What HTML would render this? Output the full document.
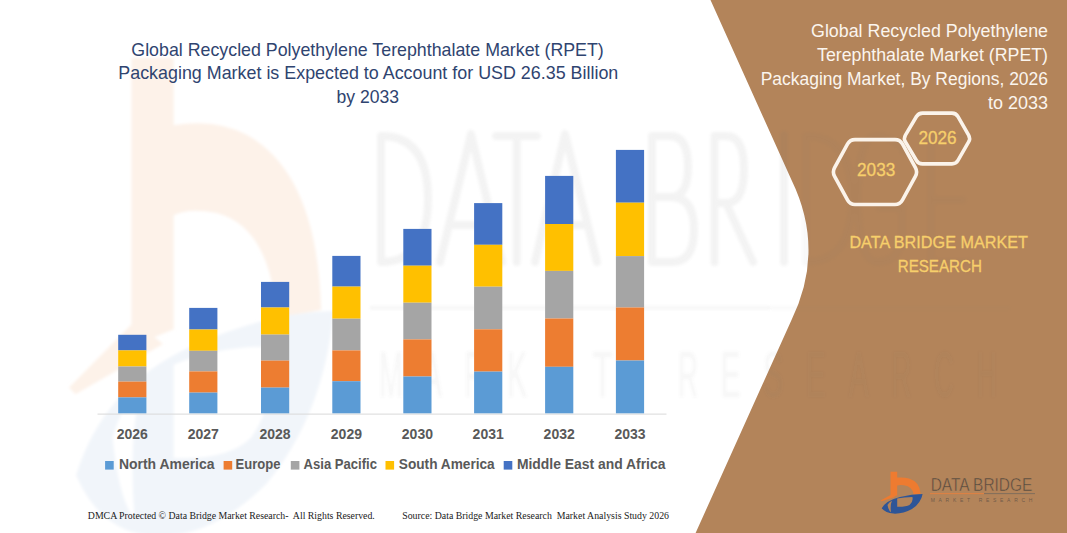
<!DOCTYPE html>
<html><head><meta charset="utf-8">
<style>
html,body{margin:0;padding:0;background:#fff;}
body{width:1067px;height:533px;overflow:hidden;position:relative;font-family:"Liberation Sans",sans-serif;}
svg{position:absolute;left:0;top:0;display:block;}
</style></head>
<body>
<svg width="1067" height="533" viewBox="0 0 1067 533">
<defs><filter id="bl" x="-10%" y="-10%" width="120%" height="120%"><feGaussianBlur stdDeviation="1.6"/></filter></defs>
<rect x="0" y="0" width="1067" height="533" fill="#ffffff"/>
<g id="wmlogo" filter="url(#bl)">
<path d="M131.5 58.0 L173.7 58.0 L173.7 125.3 Q216.6 118.4 248.1 135.5 Q317.4 175.4 321.1 309.9 L277.0 317.9 Q270.1 226.7 216.6 213.0 Q188.2 207.3 173.7 215.3 L173.7 329.3 L131.5 346.4 Z" fill="#FDF2E9"/>
<path d="M134.7 321.3 L69.1 387.5 L75.4 394.3 L163.0 344.1 Z" fill="#FDF2E9"/>
<path d="M76.1 475.2 Q103.2 386.3 191.3 346.4 Q266.9 312.2 333.7 311.1 Q323.6 414.8 266.9 483.2 Q210.2 540.2 151.0 535.7 Q100.0 531.1 76.1 475.2 Z M173.7 364.7 L173.7 458.1 Q229.1 460.4 251.2 437.6 Q276.4 403.4 269.5 346.4 Q216.6 346.4 173.7 364.7 Z" fill="#F1F5FA" fill-rule="evenodd"/>
<path d="M112.6 437.6 Q122.0 403.4 140.9 389.7 Q128.3 437.6 134.7 519.7 Q118.9 500.3 112.6 437.6 Z" fill="#ffffff"/>
</g>
<path d="M710.5 0 L791.5 180 Q825.5 250 791.5 320 L695.6 533 L1067 533 L1067 0 Z" fill="#B3845A"/>
<g id="wmtext" filter="url(#bl)" opacity="0.08">
<g fill="none" stroke="#6E6E6E" stroke-linecap="round" stroke-width="7.8" stroke-linejoin="round">
<path d="M381 136 L381 262 Q428 262 428 199 Q428 136 381 136 Z"/>
<path d="M440 262 L471 134 L502 262 M451 225 L491 225"/>
<path d="M496 136 L537 136 M516.7 136 L516.7 262"/>
<path d="M535 262 L565 134 L597 262 M545 225 L587 225"/>
<path d="M652 136 L652 262 L672 262 Q694 262 694 229.5 Q694 197 671 197 L652 197 M671 197 Q688 197 688 166.5 Q688 136 670 136 L652 136"/>
<path d="M714.5 262 L714.5 136 L726 136 Q744 136 744 169.5 Q744 203 726 203 L714.5 203 M726 203 L753 262"/>
<path d="M784 135 L784 262"/>
</g>
<rect x="370" y="306" width="400" height="3.5" fill="#8A8A8A"/>
</g>
<g filter="url(#bl)" opacity="0.045">
<g fill="none" stroke="#6E6E6E" stroke-linecap="round" stroke-width="7.8" stroke-linejoin="round">
<path d="M806 136 L806 262 Q852 262 852 199 Q852 136 806 136 Z"/>
<path d="M905 152 Q893 136 876 136 Q858 136 858 199 Q858 262 877 262 Q900 262 902 236 L902 208 L880 208"/>
<path d="M968 136 L931 136 L931 262 L968 262 M931 200 L962 200"/>
</g>
<rect x="770" y="306" width="240" height="3.5" fill="#8A8A8A"/>
</g>
<g id="wmtext2" filter="url(#bl)" font-family="Liberation Sans" font-size="64" fill="#6E6E6E">
<text x="379.0" y="397" textLength="24" lengthAdjust="spacingAndGlyphs" opacity="0.06">M</text>
<text x="421.7" y="397" textLength="20" lengthAdjust="spacingAndGlyphs" opacity="0.06">A</text>
<text x="464.4" y="397" textLength="20" lengthAdjust="spacingAndGlyphs" opacity="0.06">R</text>
<text x="507.1" y="397" textLength="20" lengthAdjust="spacingAndGlyphs" opacity="0.06">K</text>
<text x="549.8" y="397" textLength="20" lengthAdjust="spacingAndGlyphs" opacity="0.06">E</text>
<text x="592.5" y="397" textLength="20" lengthAdjust="spacingAndGlyphs" opacity="0.06">T</text>
<text x="677.9" y="397" textLength="20" lengthAdjust="spacingAndGlyphs" opacity="0.06">R</text>
<text x="720.6" y="397" textLength="20" lengthAdjust="spacingAndGlyphs" opacity="0.06">E</text>
<text x="763.3" y="397" textLength="20" lengthAdjust="spacingAndGlyphs" opacity="0.06">S</text>
<text x="806.0" y="397" textLength="20" lengthAdjust="spacingAndGlyphs" opacity="0.04">E</text>
<text x="848.7" y="397" textLength="20" lengthAdjust="spacingAndGlyphs" opacity="0.04">A</text>
<text x="891.4" y="397" textLength="20" lengthAdjust="spacingAndGlyphs" opacity="0.04">R</text>
<text x="934.1" y="397" textLength="20" lengthAdjust="spacingAndGlyphs" opacity="0.04">C</text>
<text x="976.8" y="397" textLength="20" lengthAdjust="spacingAndGlyphs" opacity="0.04">H</text>
</g>
<rect x="97.5" y="413.6" width="569" height="1" fill="#D9D9D9"/>
<g id="bars">
<rect x="118.2" y="334.8" width="28.2" height="15.6" fill="#4472C4"/>
<rect x="118.2" y="350.4" width="28.2" height="16.1" fill="#FFC000"/>
<rect x="118.2" y="366.5" width="28.2" height="15.1" fill="#A5A5A5"/>
<rect x="118.2" y="381.6" width="28.2" height="15.8" fill="#ED7D31"/>
<rect x="118.2" y="397.4" width="28.2" height="15.9" fill="#5B9BD5"/>
<rect x="189.2" y="307.9" width="28.2" height="21.6" fill="#4472C4"/>
<rect x="189.2" y="329.5" width="28.2" height="21.3" fill="#FFC000"/>
<rect x="189.2" y="350.8" width="28.2" height="20.6" fill="#A5A5A5"/>
<rect x="189.2" y="371.4" width="28.2" height="21.2" fill="#ED7D31"/>
<rect x="189.2" y="392.6" width="28.2" height="20.7" fill="#5B9BD5"/>
<rect x="261.0" y="281.9" width="28.2" height="25.6" fill="#4472C4"/>
<rect x="261.0" y="307.5" width="28.2" height="27.1" fill="#FFC000"/>
<rect x="261.0" y="334.6" width="28.2" height="26.0" fill="#A5A5A5"/>
<rect x="261.0" y="360.6" width="28.2" height="27.0" fill="#ED7D31"/>
<rect x="261.0" y="387.6" width="28.2" height="25.7" fill="#5B9BD5"/>
<rect x="332.3" y="255.9" width="28.2" height="30.7" fill="#4472C4"/>
<rect x="332.3" y="286.6" width="28.2" height="32.1" fill="#FFC000"/>
<rect x="332.3" y="318.7" width="28.2" height="31.7" fill="#A5A5A5"/>
<rect x="332.3" y="350.4" width="28.2" height="30.8" fill="#ED7D31"/>
<rect x="332.3" y="381.2" width="28.2" height="32.1" fill="#5B9BD5"/>
<rect x="403.3" y="228.9" width="28.2" height="36.8" fill="#4472C4"/>
<rect x="403.3" y="265.7" width="28.2" height="37.0" fill="#FFC000"/>
<rect x="403.3" y="302.7" width="28.2" height="36.7" fill="#A5A5A5"/>
<rect x="403.3" y="339.4" width="28.2" height="37.1" fill="#ED7D31"/>
<rect x="403.3" y="376.5" width="28.2" height="36.8" fill="#5B9BD5"/>
<rect x="474.1" y="203.1" width="28.2" height="41.7" fill="#4472C4"/>
<rect x="474.1" y="244.8" width="28.2" height="41.9" fill="#FFC000"/>
<rect x="474.1" y="286.7" width="28.2" height="42.6" fill="#A5A5A5"/>
<rect x="474.1" y="329.3" width="28.2" height="42.3" fill="#ED7D31"/>
<rect x="474.1" y="371.6" width="28.2" height="41.7" fill="#5B9BD5"/>
<rect x="545.1" y="175.9" width="28.2" height="48.1" fill="#4472C4"/>
<rect x="545.1" y="224.0" width="28.2" height="46.9" fill="#FFC000"/>
<rect x="545.1" y="270.9" width="28.2" height="47.6" fill="#A5A5A5"/>
<rect x="545.1" y="318.5" width="28.2" height="48.3" fill="#ED7D31"/>
<rect x="545.1" y="366.8" width="28.2" height="46.5" fill="#5B9BD5"/>
<rect x="615.9" y="149.9" width="28.2" height="52.8" fill="#4472C4"/>
<rect x="615.9" y="202.7" width="28.2" height="53.4" fill="#FFC000"/>
<rect x="615.9" y="256.1" width="28.2" height="51.4" fill="#A5A5A5"/>
<rect x="615.9" y="307.5" width="28.2" height="53.0" fill="#ED7D31"/>
<rect x="615.9" y="360.5" width="28.2" height="52.8" fill="#5B9BD5"/>
</g>
<g font-family="Liberation Sans" font-size="17.7" fill="#2F4470" text-anchor="middle">
<text x="367.55" y="55.8" textLength="472.5" lengthAdjust="spacingAndGlyphs">Global Recycled Polyethylene Terephthalate Market (RPET)</text>
<text x="368.3" y="79" textLength="500" lengthAdjust="spacingAndGlyphs">Packaging Market is Expected to Account for USD 26.35 Billion</text>
<text x="367.8" y="103.1" textLength="62.5" lengthAdjust="spacingAndGlyphs">by 2033</text>
</g>
<g font-family="Liberation Sans" font-size="14" font-weight="bold" fill="#595959" text-anchor="middle">
<text x="132.3" y="439.2">2026</text>
<text x="203.3" y="439.2">2027</text>
<text x="275.1" y="439.2">2028</text>
<text x="346.4" y="439.2">2029</text>
<text x="417.4" y="439.2">2030</text>
<text x="488.2" y="439.2">2031</text>
<text x="559.2" y="439.2">2032</text>
<text x="630.0" y="439.2">2033</text>
</g>
<g font-family="Liberation Sans" font-size="14" font-weight="bold" fill="#595959">
<rect x="105.1" y="461" width="8.6" height="8.6" fill="#5B9BD5"/>
<text x="118.9" y="468.6" textLength="95.6" lengthAdjust="spacingAndGlyphs">North America</text>
<rect x="223.6" y="461" width="8.6" height="8.6" fill="#ED7D31"/>
<text x="235.6" y="468.6" textLength="44.9" lengthAdjust="spacingAndGlyphs">Europe</text>
<rect x="290.8" y="461" width="8.6" height="8.6" fill="#A5A5A5"/>
<text x="303.6" y="468.6" textLength="73.4" lengthAdjust="spacingAndGlyphs">Asia Pacific</text>
<rect x="385.5" y="461" width="8.6" height="8.6" fill="#FFC000"/>
<text x="398.8" y="468.6" textLength="95.9" lengthAdjust="spacingAndGlyphs">South America</text>
<rect x="503.7" y="461" width="8.6" height="8.6" fill="#4472C4"/>
<text x="516.9" y="468.6" textLength="148.5" lengthAdjust="spacingAndGlyphs">Middle East and Africa</text>
</g>
<g font-family="Liberation Serif" font-size="10" fill="#1a1a1a" style="white-space:pre">
<text x="87.8" y="518.5" textLength="287" lengthAdjust="spacingAndGlyphs">DMCA Protected © Data Bridge Market Research-&#160; All Rights Reserved.</text>
<text x="402.2" y="518.5" textLength="266.8" lengthAdjust="spacingAndGlyphs">Source: Data Bridge Market Research&#160; Market Analysis Study 2026</text>
</g>
<g font-family="Liberation Sans" font-size="17.5" fill="#FBF5EE" text-anchor="end">
<text x="1048" y="37" textLength="237" lengthAdjust="spacingAndGlyphs">Global Recycled Polyethylene</text>
<text x="1048" y="60.8" textLength="231" lengthAdjust="spacingAndGlyphs">Terephthalate Market (RPET)</text>
<text x="1048" y="85" textLength="287.3" lengthAdjust="spacingAndGlyphs">Packaging Market, By Regions, 2026</text>
<text x="1048" y="109" textLength="60" lengthAdjust="spacingAndGlyphs">to 2033</text>
</g>
<g fill="none" stroke="#FBF3EA" stroke-width="3.6" stroke-linejoin="round">
<path d="M905.44 141.94 Q903.40 138.50 905.44 135.06 L916.46 116.54 Q918.50 113.10 922.50 113.10 L952.00 113.10 Q956.00 113.10 957.99 116.57 L968.61 135.03 Q970.60 138.50 968.61 141.97 L957.99 160.43 Q956.00 163.90 952.00 163.90 L922.50 163.90 Q918.50 163.90 916.46 160.46 Z"/>
<path d="M834.60 176.43 Q832.20 172.05 834.60 167.67 L847.60 143.98 Q850.00 139.60 855.00 139.60 L895.00 139.60 Q900.00 139.60 902.40 143.98 L915.40 167.67 Q917.80 172.05 915.40 176.43 L902.40 200.12 Q900.00 204.50 895.00 204.50 L855.00 204.50 Q850.00 204.50 847.60 200.12 Z"/>
</g>
<g font-family="Liberation Sans" font-size="17.5" fill="#F7CF6B" stroke="#F7CF6B" stroke-width="0.3" text-anchor="middle">
<text x="937.5" y="144" textLength="38.2" lengthAdjust="spacingAndGlyphs">2026</text>
<text x="876.2" y="175.9" textLength="38.3" lengthAdjust="spacingAndGlyphs">2033</text>
<text x="938.7" y="247.5" textLength="178.6" lengthAdjust="spacingAndGlyphs" font-size="16.7">DATA BRIDGE MARKET</text>
<text x="939.8" y="271.5" textLength="84.2" lengthAdjust="spacingAndGlyphs" font-size="16.7">RESEARCH</text>
</g>
<g id="logo">
<path d="M890.5 471.7 L897.2 471.7 L897.2 477.6 Q904 477 909 478.5 Q920 482 920.6 493.8 L913.6 494.5 Q912.5 486.5 904 485.3 Q899.5 484.8 897.2 485.5 L897.2 495.5 L890.5 497 Z" fill="#EE7B30"/>
<path d="M891 494.8 L880.6 500.6 L881.6 501.2 L895.5 496.8 Z" fill="#EE7B30"/>
<path d="M881.7 508.3 Q886 500.5 900 497 Q912 494 922.6 493.9 Q921 503 912 509 Q903 514 893.6 513.6 Q885.5 513.2 881.7 508.3 Z M897.2 498.6 L897.2 506.8 Q906 507 909.5 505 Q913.5 502 912.4 497 Q904 497 897.2 498.6 Z" fill="#2E5597" fill-rule="evenodd"/>
<path d="M887.5 505 Q889 502 892 500.8 Q890 505 891 512.2 Q888.5 510.5 887.5 505 Z" fill="#B3845A"/>
<text x="930.7" y="490.8" font-family="Liberation Sans" font-size="18.6" fill="#554A40" stroke="#B3845A" stroke-width="0.5" textLength="101.7" lengthAdjust="spacingAndGlyphs">DATA BRIDGE</text>
<rect x="930" y="493.2" width="54" height="0.9" fill="#E58040"/>
<rect x="984" y="493.2" width="51" height="0.9" fill="#7C6B5C"/>
<text x="930.7" y="502" font-family="Liberation Sans" font-size="5" fill="#5E5044" fill-opacity="0.8" textLength="101.7" lengthAdjust="spacing">MARKET  RESEARCH</text>
</g>
</svg>
</body></html>
